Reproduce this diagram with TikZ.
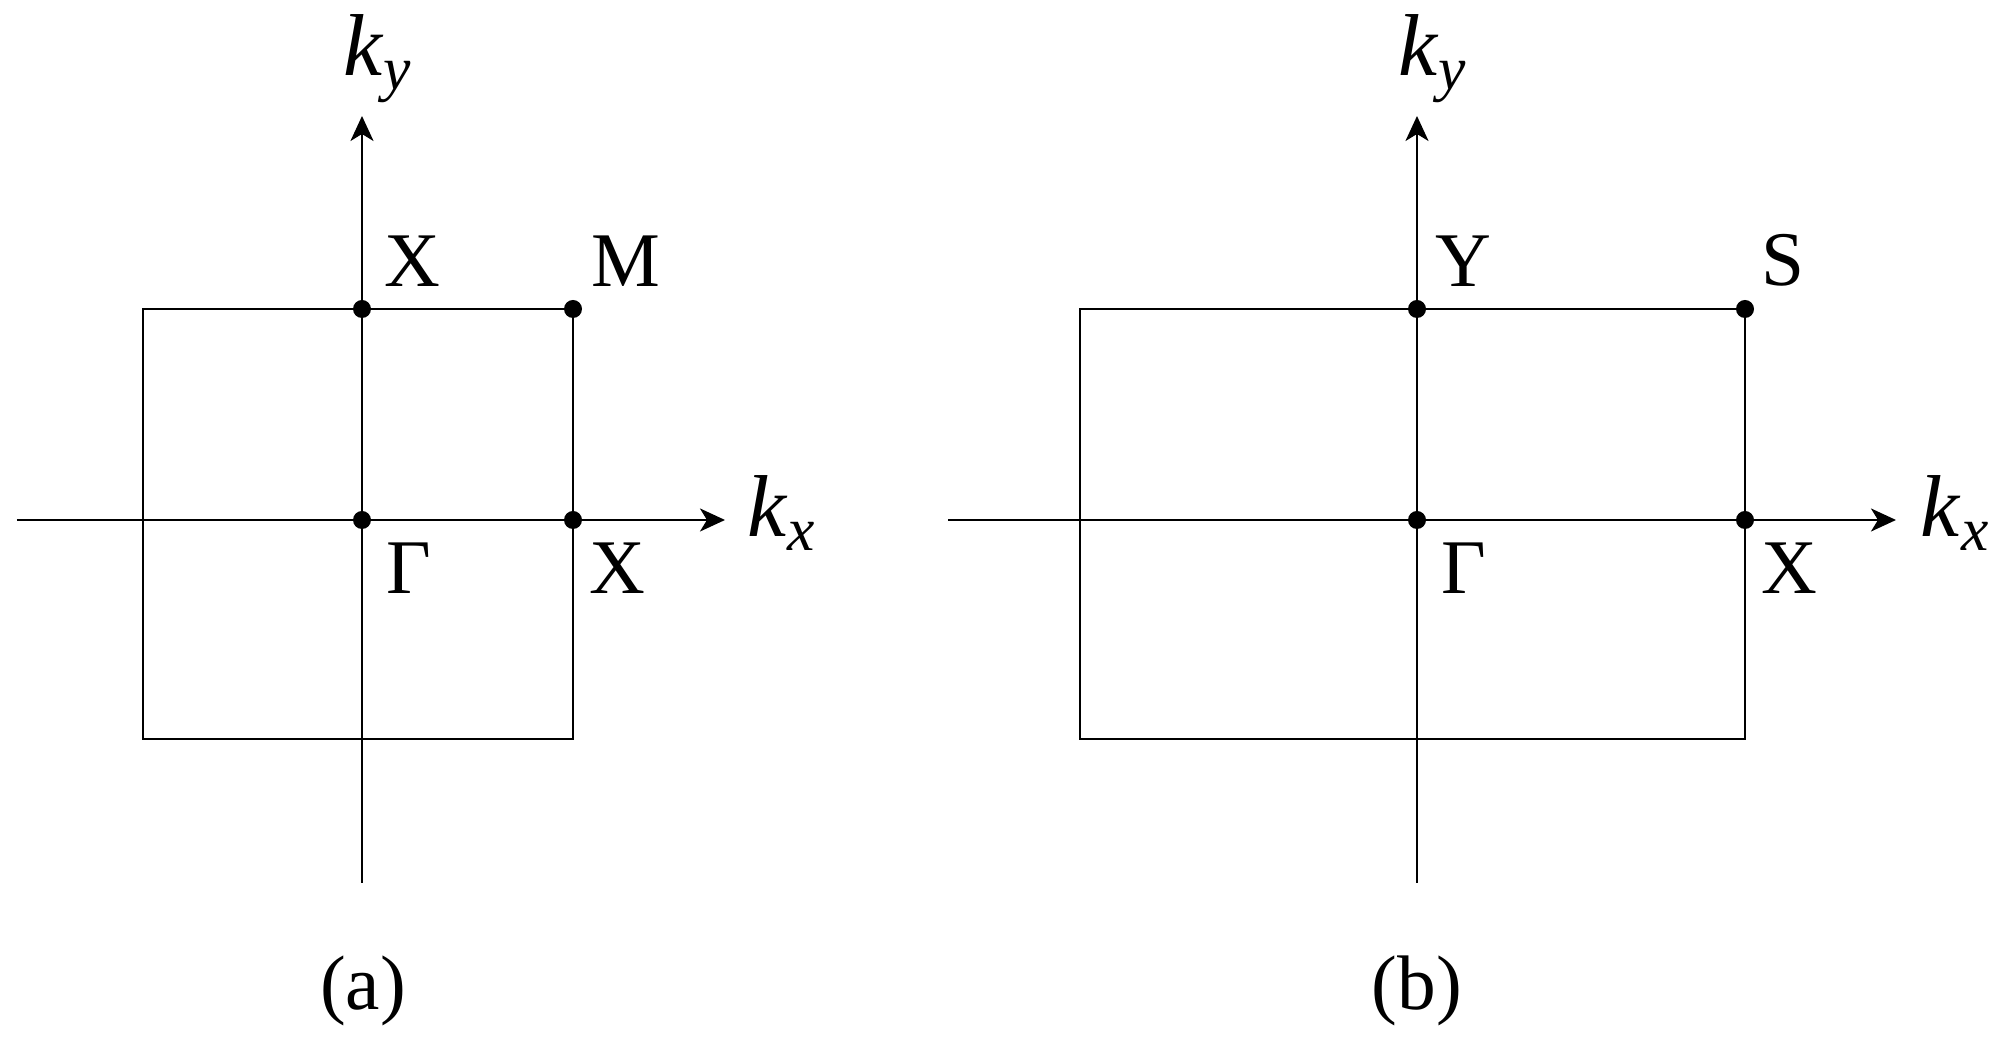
\documentclass[tikz,border=0pt]{standalone}
\usepackage{fontspec}
\setmainfont{Liberation Serif}
\usetikzlibrary{arrows.meta, positioning}

\tikzset{
	axis/.style={line width=0.7pt, -{Stealth[length=0.25cm, width=0.23cm, inset=0.07cm]}},
	zone/.style={line width=0.75pt},
	dot/.style={circle, fill=black, inner sep=0pt, minimum size=0.18cm},
	pt/.style={inner sep=0pt, font=\fontsize{22}{24}\selectfont},
	klabel/.style={inner sep=0pt, font=\fontsize{25}{28}\selectfont},
}

\begin{document}
\begin{tikzpicture}[node distance=0.2cm]
	\useasboundingbox (0, 0) rectangle (20.05, 10.48);
	
	% (a) square zone
	\coordinate (kxLa) at (0.17, 5.28);
	\coordinate (kxRa) at (7.25, 5.28);
	\coordinate (kyBa) at (3.62, 1.65);
	\coordinate (kyTa) at (3.62, 9.32);
	\coordinate (cornera) at (1.43, 3.09);
	
	\draw[zone] (cornera) rectangle (5.73, 7.39);
	\draw[axis] (kxLa) -- (kxRa);
	\draw[axis] (kyBa) -- (kyTa);
	
	\node[dot] (Ga) at (3.62, 5.28) {};
	\node[dot] (Xra) at (5.73, 5.28) {};
	\node[dot] (Xta) at (3.62, 7.39) {};
	\node[dot] (Ma) at (5.73, 7.39) {};
	
	\node[pt, above right=0.22cm and 0.22cm of Xta.center] (Xtalabel) {X};
	\node[pt, above right=0.22cm and 0.18cm of Ma.center] (Malabel) {M};
	\node[pt, below right=0.22cm and 0.24cm of Ga.center] (Galabel) {Γ};
	\node[pt, below right=0.22cm and 0.16cm of Xra.center] (Xralabel) {X};
	
	\node[klabel, anchor=base west] (kxa) at (7.47, 5.11) {\textit{k}\textsubscript{\textit{x}}};
	\node[klabel, anchor=base west] (kya) at (3.43, 9.72) {\textit{k}\textsubscript{\textit{y}}};
	\node[pt, anchor=base] (capa) at (3.63, 0.38) {(a)};
	
	% (b) rectangular zone
	\coordinate (kxLb) at (9.48, 5.28);
	\coordinate (kxRb) at (18.96, 5.28);
	\coordinate (kyBb) at (14.17, 1.65);
	\coordinate (kyTb) at (14.17, 9.32);
	\coordinate (cornerb) at (10.80, 3.09);
	
	\draw[zone] (cornerb) rectangle (17.45, 7.39);
	\draw[axis] (kxLb) -- (kxRb);
	\draw[axis] (kyBb) -- (kyTb);
	
	\node[dot] (Gb) at (14.17, 5.28) {};
	\node[dot] (Xb) at (17.45, 5.28) {};
	\node[dot] (Yb) at (14.17, 7.39) {};
	\node[dot] (Sb) at (17.45, 7.39) {};
	
	\node[pt, above right=0.22cm and 0.18cm of Yb.center] (Yblabel) {Y};
	\node[pt, above right=0.22cm and 0.16cm of Sb.center] (Sblabel) {S};
	\node[pt, below right=0.22cm and 0.24cm of Gb.center] (Gblabel) {Γ};
	\node[pt, below right=0.22cm and 0.16cm of Xb.center] (Xblabel) {X};
	
	\node[klabel, anchor=base west] (kxb) at (19.20, 5.11) {\textit{k}\textsubscript{\textit{x}}};
	\node[klabel, anchor=base west] (kyb) at (13.98, 9.72) {\textit{k}\textsubscript{\textit{y}}};
	\node[pt, anchor=base] (capb) at (14.17, 0.38) {(b)};
	
\end{tikzpicture}
\end{document}
